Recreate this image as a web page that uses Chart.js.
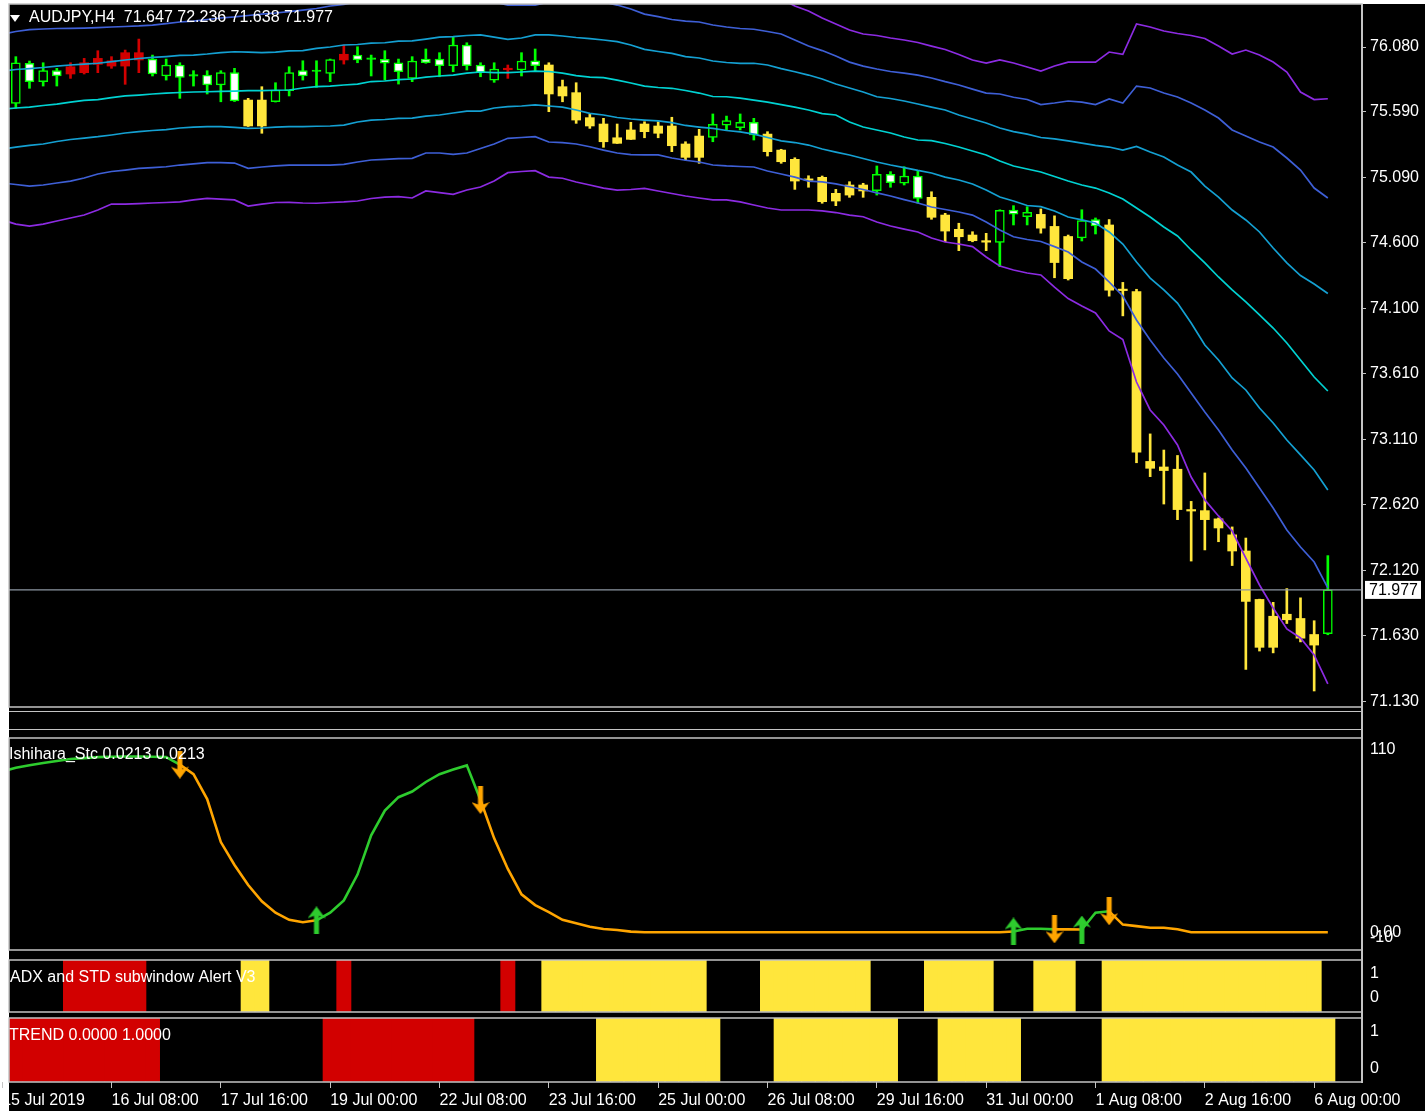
<!DOCTYPE html>
<html>
<head>
<meta charset="utf-8">
<title>AUDJPY,H4</title>
<script src="https://cdn.jsdelivr.net/npm/chart.js@4.4.1/dist/chart.umd.min.js"></script>
<style>
  html, body { margin: 0; padding: 0; background: #fff; }
  #wrap { position: relative; width: 1425px; height: 1111px; overflow: hidden; background: #fff; }
  #black { position: absolute; left: 9px; top: 4px; width: 1416px; height: 1107px; background: #000; }
  #strip { position: absolute; left: 9px; top: 711px; width: 1353px; height: 19px; box-sizing: border-box;
           border-top: 1.5px solid #c4c4c4; border-bottom: 1.5px solid #c4c4c4; }
  #vline { position: absolute; left: 1361px; top: 4px; width: 1.5px; height: 1079px; background: #c4c4c4; }
  canvas { position: absolute; left: 0; }
</style>
</head>
<body>
<div id="wrap">
  <div id="black"></div>
  <div id="strip"></div>
  <div id="vline"></div>
  <canvas id="main" width="1425" height="710" style="top:0px"></canvas>
  <canvas id="stc" width="1425" height="226" style="top:731px"></canvas>
  <canvas id="adx" width="1425" height="56" style="top:958px"></canvas>
  <canvas id="trend" width="1425" height="95" style="top:1016px"></canvas>
</div>
<script>
// AUDJPY H4, bar 0 = 15 Jul 2019 00:00 (just off the left edge), bar 97 = 6 Aug 04:00
const symbol = 'AUDJPY,H4';

const open = [null,
  75.654, 75.957, 75.818, 75.901, 75.876, 75.886, 75.949, 75.936, 75.936, 75.982,
  75.989, 75.861, 75.944, 75.866, 75.868, 75.793, 75.886, 75.679, 75.679, 75.666,
  75.750, 75.901, 75.901, 75.881, 75.982, 76.019, 75.992, 75.987, 75.961, 75.843,
  75.989, 75.989, 75.939, 76.095, 75.944, 75.830, 75.908, 75.906, 75.976, 75.944,
  75.780, 75.735, 75.546, 75.498, 75.394, 75.453, 75.498, 75.483, 75.483, 75.347,
  75.407, 75.397, 75.490, 75.470, 75.511, 75.422, 75.301, 75.231, 75.078, 75.095,
  74.974, 75.037, 75.037, 74.994, 75.118, 75.050, 75.105, 74.944, 74.810, 74.702,
  74.659, 74.611, 74.604, 74.848, 74.797, 74.815, 74.724, 74.648, 74.638, 74.776,
  74.735, 74.245, 74.232, 72.948, 72.906, 72.889, 72.579, 72.576, 72.514, 72.393,
  72.271, 71.905, 71.778, 71.793, 71.761, 71.640, 71.647];
const high = [null,
  76.007, 75.974, 75.961, 75.919, 75.961, 75.994, 76.052, 76.007, 76.057, 76.140,
  76.019, 75.989, 75.961, 75.901, 75.901, 75.901, 75.919, 75.692, 75.780, 75.810,
  75.931, 75.976, 75.976, 75.989, 76.095, 76.082, 76.019, 76.052, 75.989, 76.007,
  76.065, 76.037, 76.158, 76.112, 75.961, 75.961, 75.944, 76.037, 76.065, 75.961,
  75.830, 75.810, 75.571, 75.541, 75.498, 75.511, 75.515, 75.515, 75.549, 75.364,
  75.458, 75.574, 75.558, 75.574, 75.541, 75.440, 75.307, 75.243, 75.107, 75.105,
  75.004, 75.062, 75.050, 75.181, 75.138, 75.175, 75.143, 74.986, 74.823, 74.748,
  74.684, 74.672, 74.850, 74.881, 74.873, 74.856, 74.804, 74.659, 74.850, 74.788,
  74.776, 74.301, 74.249, 73.156, 73.034, 72.993, 72.646, 72.861, 72.521, 72.453,
  72.369, 71.907, 71.883, 71.987, 71.917, 71.744, 72.236];
const low = [null,
  75.617, 75.768, 75.785, 75.785, 75.843, 75.876, 75.886, 75.919, 75.798, 75.886,
  75.861, 75.830, 75.692, 75.785, 75.725, 75.666, 75.668, 75.479, 75.428, 75.664,
  75.710, 75.830, 75.775, 75.818, 75.951, 75.961, 75.861, 75.830, 75.800, 75.818,
  75.957, 75.855, 75.893, 75.906, 75.855, 75.813, 75.843, 75.861, 75.901, 75.591,
  75.666, 75.503, 75.465, 75.322, 75.351, 75.381, 75.394, 75.394, 75.289, 75.226,
  75.201, 75.364, 75.453, 75.453, 75.377, 75.256, 75.201, 75.004, 75.020, 74.899,
  74.881, 74.944, 74.944, 74.961, 75.020, 75.037, 74.899, 74.778, 74.608, 74.541,
  74.608, 74.541, 74.420, 74.735, 74.735, 74.673, 74.336, 74.319, 74.614, 74.667,
  74.197, 74.048, 72.938, 72.833, 72.626, 72.508, 72.195, 72.279, 72.341, 72.161,
  71.376, 71.515, 71.501, 71.723, 71.584, 71.213, 71.638];
const close = [null,
  75.961, 75.818, 75.901, 75.861, 75.931, 75.961, 75.994, 75.976, 76.037, 76.037,
  75.876, 75.944, 75.851, 75.860, 75.793, 75.886, 75.672, 75.483, 75.483, 75.755,
  75.886, 75.861, 75.895, 75.985, 76.025, 75.982, 75.986, 75.957, 75.893, 75.974,
  75.961, 75.939, 76.095, 75.939, 75.886, 75.914, 75.914, 75.974, 75.939, 75.725,
  75.710, 75.528, 75.483, 75.364, 75.352, 75.382, 75.440, 75.428, 75.334, 75.246,
  75.246, 75.496, 75.523, 75.511, 75.415, 75.289, 75.213, 75.067, 75.072, 74.911,
  74.916, 74.961, 74.992, 75.118, 75.054, 75.105, 74.936, 74.793, 74.689, 74.646,
  74.616, 74.605, 74.846, 74.816, 74.831, 74.711, 74.451, 74.329, 74.769, 74.728,
  74.242, 74.239, 73.018, 72.896, 72.879, 72.584, 72.573, 72.508, 72.445, 72.271,
  71.890, 71.543, 71.543, 71.751, 71.612, 71.560, 71.977];

// channel lines, outer to inner
const p3Up = [null, null, null, null, null, null, null, null, null, null,
  null, null, null, null, null, null, null, null, null, null,
  null, null, null, null, null, null, null, null, null, null,
  null, null, null, null, null, null, null, null, null, null,
  null, null, null, null, null, null, null, null, null, null,
  null, null, null, null, null, null, null, 76.443, 76.390, 76.352,
  76.299, 76.254, 76.208, 76.178, 76.167, 76.148, 76.133, 76.114, 76.087, 76.061,
  76.023, 75.982, 75.959, 75.982, 75.959, 75.929, 75.898, 75.936, 75.966, 75.966,
  75.966, 76.042, 76.025, 76.254, 76.231, 76.201, 76.182, 76.167, 76.144, 76.087,
  76.027, 76.057, 76.019, 75.966, 75.891, 75.740, 75.683, 75.689];
const b2Up = [
  76.178, 76.197, 76.212, 76.216, 76.220, 76.221, 76.223, 76.227, 76.231, 76.235,
  76.239, 76.246, 76.257, 76.269, 76.276, 76.288, 76.299, 76.307, 76.318, 76.329,
  76.337, 76.348, 76.359, 76.371, 76.390, 76.401, 76.427, 76.443, 76.458, 76.465,
  76.465, 76.465, 76.465, 76.458, 76.450, 76.435, 76.420, 76.397, 76.397, 76.397,
  76.420, 76.435, 76.443, 76.435, 76.420, 76.397, 76.367, 76.329, 76.309, 76.288,
  76.276, 76.269, 76.246, 76.231, 76.220, 76.214, 76.197, 76.178, 76.133, 76.087,
  76.053, 76.012, 75.966, 75.936, 75.914, 75.895, 75.883, 75.868, 75.846, 75.818,
  75.793, 75.762, 75.732, 75.725, 75.700, 75.683, 75.645, 75.657, 75.672, 75.664,
  75.645, 75.687, 75.657, 75.785, 75.770, 75.732, 75.702, 75.657, 75.604, 75.543,
  75.453, 75.407, 75.362, 75.324, 75.241, 75.150, 75.014, 74.939];
const c1Up = [
  75.898, 75.910, 75.917, 75.925, 75.936, 75.944, 75.951, 75.957, 75.970, 75.982,
  75.993, 76.002, 76.008, 76.016, 76.019, 76.027, 76.038, 76.044, 76.041, 76.037,
  76.042, 76.050, 76.052, 76.069, 76.080, 76.095, 76.099, 76.110, 76.112, 76.125,
  76.127, 76.140, 76.155, 76.159, 76.167, 76.171, 76.155, 76.137, 76.148, 76.171,
  76.171, 76.163, 76.152, 76.144, 76.133, 76.120, 76.095, 76.062, 76.046, 76.032,
  76.007, 75.997, 75.974, 75.963, 75.957, 75.957, 75.944, 75.917, 75.893, 75.868,
  75.838, 75.800, 75.770, 75.740, 75.704, 75.691, 75.672, 75.649, 75.626, 75.604,
  75.566, 75.536, 75.506, 75.468, 75.441, 75.422, 75.396, 75.385, 75.370, 75.354,
  75.336, 75.324, 75.301, 75.328, 75.286, 75.249, 75.188, 75.135, 75.029, 74.946,
  74.848, 74.773, 74.682, 74.561, 74.448, 74.353, 74.289, 74.217];
const mid = [
  75.611, 75.619, 75.626, 75.638, 75.649, 75.664, 75.676, 75.683, 75.698, 75.710,
  75.717, 75.725, 75.732, 75.736, 75.740, 75.742, 75.745, 75.747, 75.750, 75.751,
  75.753, 75.755, 75.770, 75.780, 75.785, 75.793, 75.800, 75.819, 75.823, 75.834,
  75.838, 75.853, 75.861, 75.868, 75.883, 75.891, 75.887, 75.886, 75.891, 75.898,
  75.895, 75.883, 75.864, 75.853, 75.849, 75.830, 75.808, 75.785, 75.774, 75.768,
  75.751, 75.732, 75.706, 75.704, 75.694, 75.679, 75.664, 75.645, 75.626, 75.604,
  75.577, 75.566, 75.513, 75.475, 75.453, 75.430, 75.400, 75.377, 75.373, 75.351,
  75.324, 75.294, 75.264, 75.218, 75.181, 75.158, 75.135, 75.101, 75.067, 75.037,
  75.014, 74.977, 74.931, 74.863, 74.795, 74.720, 74.652, 74.546, 74.448, 74.342,
  74.244, 74.153, 74.055, 73.956, 73.843, 73.715, 73.586, 73.480];
const c1Low = [
  75.309, 75.324, 75.336, 75.347, 75.366, 75.381, 75.392, 75.402, 75.415, 75.430,
  75.441, 75.449, 75.456, 75.468, 75.475, 75.478, 75.478, 75.472, 75.465, 75.468,
  75.475, 75.478, 75.479, 75.481, 75.483, 75.490, 75.513, 75.528, 75.532, 75.540,
  75.543, 75.558, 75.566, 75.581, 75.596, 75.596, 75.619, 75.629, 75.634, 75.642,
  75.634, 75.626, 75.604, 75.579, 75.566, 75.547, 75.536, 75.528, 75.521, 75.508,
  75.487, 75.475, 75.465, 75.449, 75.438, 75.422, 75.396, 75.370, 75.358, 75.339,
  75.309, 75.286, 75.264, 75.237, 75.211, 75.188, 75.169, 75.147, 75.128, 75.097,
  75.075, 75.045, 74.999, 74.946, 74.916, 74.882, 74.873, 74.841, 74.795, 74.773,
  74.750, 74.682, 74.591, 74.455, 74.334, 74.244, 74.145, 73.994, 73.828, 73.715,
  73.579, 73.488, 73.352, 73.238, 73.110, 72.997, 72.883, 72.732];
const b2Low = [
  75.052, 75.041, 75.029, 75.037, 75.052, 75.067, 75.090, 75.120, 75.139, 75.150,
  75.162, 75.169, 75.175, 75.188, 75.196, 75.206, 75.206, 75.203, 75.163, 75.173,
  75.181, 75.188, 75.188, 75.188, 75.188, 75.193, 75.211, 75.226, 75.231, 75.237,
  75.239, 75.279, 75.279, 75.269, 75.279, 75.313, 75.347, 75.390, 75.396, 75.402,
  75.362, 75.357, 75.347, 75.326, 75.301, 75.279, 75.267, 75.264, 75.264, 75.241,
  75.224, 75.211, 75.188, 75.181, 75.177, 75.173, 75.143, 75.120, 75.097, 75.067,
  75.060, 75.045, 75.024, 75.003, 74.977, 74.954, 74.927, 74.901, 74.871, 74.852,
  74.833, 74.810, 74.757, 74.697, 74.646, 74.625, 74.610, 74.571, 74.531, 74.455,
  74.402, 74.304, 74.198, 74.017, 73.866, 73.730, 73.609, 73.465, 73.322, 73.186,
  73.034, 72.898, 72.747, 72.596, 72.430, 72.301, 72.188, 71.992];
const p3Low = [
  74.773, 74.742, 74.727, 74.742, 74.765, 74.788, 74.810, 74.848, 74.893, 74.893,
  74.897, 74.901, 74.905, 74.909, 74.924, 74.936, 74.931, 74.924, 74.878, 74.893,
  74.905, 74.906, 74.901, 74.899, 74.905, 74.909, 74.916, 74.935, 74.946, 74.949,
  74.939, 74.992, 74.979, 74.967, 74.999, 75.022, 75.067, 75.130, 75.139, 75.145,
  75.097, 75.088, 75.060, 75.037, 75.014, 74.999, 75.003, 75.011, 74.992, 74.973,
  74.954, 74.939, 74.924, 74.924, 74.909, 74.886, 74.863, 74.848, 74.848, 74.848,
  74.841, 74.829, 74.810, 74.797, 74.757, 74.727, 74.704, 74.682, 74.636, 74.606,
  74.591, 74.571, 74.493, 74.425, 74.395, 74.372, 74.357, 74.266, 74.179, 74.123,
  74.070, 73.934, 73.869, 73.548, 73.337, 73.223, 73.072, 72.830, 72.657, 72.536,
  72.422, 72.218, 72.014, 71.840, 71.682, 71.614, 71.485, 71.266];

// Ishihara_Stc
const stc = [
  91.1, 93.2, 94.6, 95.9, 97.0, 98.1, 98.6, 99.2, 99.35, 99.5,
  99.5, 99.35, 99.2, 94.9, 89.5, 75.4, 51.1, 38.1, 26.8, 17.6,
  11.1, 7.1, 5.7, 6.8, 11.1, 18.1, 32.7, 54.9, 68.9, 76.5,
  79.7, 85.1, 89.5, 92.2, 94.5, 74.9, 53.2, 35.9, 21.5, 15.4,
  11.4, 7.1, 5.1, 3.2, 1.9, 1.35, 0.4, 0.0213, 0.0213, 0.0213,
  0.0213, 0.0213, 0.0213, 0.0213, 0.0213, 0.0213, 0.0213, 0.0213, 0.0213, 0.0213,
  0.0213, 0.0213, 0.0213, 0.0213, 0.0213, 0.0213, 0.0213, 0.0213, 0.0213, 0.0213,
  0.0213, 0.0213, 0.0213, 0.0213, 0.5, 2.05, 2.05, 1.7, 1.7, 1.6,
  11.1, 11.9, 4.4, 3.5, 2.6, 2.6, 1.7, 0.0213, 0.0213, 0.0213,
  0.0213, 0.0213, 0.0213, 0.0213, 0.0213, 0.0213, 0.0213, 0.0213];
const stcUpIdx = [23, 74, 79];
const stcDownIdx = [13, 35, 77, 81];

// ADX and STD subwindow Alert V3: 1 = yellow, -1 = red, 0 = none
const adx = [0,
  0, 0, 0, 0, -1, -1, -1, -1, -1, -1,
  0, 0, 0, 0, 0, 0, 0, 1, 1, 0,
  0, 0, 0, 0, -1, 0, 0, 0, 0, 0,
  0, 0, 0, 0, 0, 0, -1, 0, 0, 1,
  1, 1, 1, 1, 1, 1, 1, 1, 1, 1,
  1, 0, 0, 0, 0, 1, 1, 1, 1, 1,
  1, 1, 1, 0, 0, 0, 0, 1, 1, 1,
  1, 1, 0, 0, 0, 1, 1, 1, 0, 0,
  1, 1, 1, 1, 1, 1, 1, 1, 1, 1,
  1, 1, 1, 1, 1, 1, 0];
// TREND: 1 = yellow, -1 = red, 0 = none
const trend = [0,
  -1, -1, -1, -1, -1, -1, -1, -1, -1, -1,
  -1, 0, 0, 0, 0, 0, 0, 0, 0, 0,
  0, 0, 0, -1, -1, -1, -1, -1, -1, -1,
  -1, -1, -1, -1, 0, 0, 0, 0, 0, 0,
  0, 0, 0, 1, 1, 1, 1, 1, 1, 1,
  1, 1, 0, 0, 0, 0, 1, 1, 1, 1,
  1, 1, 1, 1, 1, 0, 0, 0, 1, 1,
  1, 1, 1, 1, 0, 0, 0, 0, 0, 0,
  1, 1, 1, 1, 1, 1, 1, 1, 1, 1,
  1, 1, 1, 1, 1, 1, 1];

const priceTicks = [76.08, 75.59, 75.09, 74.60, 74.10, 73.61, 73.11, 72.62, 72.12, 71.63, 71.13];
const stcTicks = [110, 0, -10];
const stcTickText = ['110', '0.00', '-10'];
const binTicks = [1, 0];
const binTickText = ['1', '0'];
const xTickIdx = [0, 8, 16, 24, 32, 40, 48, 56, 64, 72, 80, 88, 96];
const xTickText = ['15 Jul 2019', '16 Jul 08:00', '17 Jul 16:00', '19 Jul 00:00', '22 Jul 08:00',
  '23 Jul 16:00', '25 Jul 00:00', '26 Jul 08:00', '29 Jul 16:00', '31 Jul 00:00',
  '1 Aug 08:00', '2 Aug 16:00', '6 Aug 00:00'];

const GREEN = '#00FF00', YELLOW = '#FFE63C', RED = '#D20000';
const STC_UP = '#2ECC2E', STC_DN = '#FFA500';
const FRAME = '#C4C4C4';
const X_MIN = 0.5, X_MAX = 99.5;

Chart.defaults.font.family = '"Liberation Sans", Arial, sans-serif';
Chart.defaults.font.size = 16;
Chart.defaults.color = '#FFFFFF';

const last = close.length - 1;

// candle colour comes from the ADX state
function candleLine(i) { return adx[i] === 1 ? YELLOW : adx[i] === -1 ? RED : GREEN; }
function candleFill(i) {
  if (adx[i] !== 0) return candleLine(i);
  if (Math.abs(close[i] - open[i]) < 0.01) return GREEN;
  return close[i] > open[i] ? '#000000' : '#FFFFFF';
}

const panelPlugin = {
  id: 'panel',
  afterDatasetsDraw(chart, args, o) {
    const {ctx, chartArea: a} = chart;
    ctx.save();
    if (o.price != null) {
      const y = chart.scales.y.getPixelForValue(o.price);
      ctx.strokeStyle = '#8C96A2';
      ctx.lineWidth = 1.3;
      ctx.beginPath(); ctx.moveTo(a.left, y); ctx.lineTo(a.right, y); ctx.stroke();
    }
    ctx.fillStyle = '#FFFFFF';
    if (o.marker) {
      const ty = a.top + o.dy;
      ctx.beginPath();
      ctx.moveTo(a.left + 1, ty - 3); ctx.lineTo(a.left + 11, ty - 3); ctx.lineTo(a.left + 6, ty + 4);
      ctx.closePath(); ctx.fill();
    }
    ctx.font = '16px "Liberation Sans", Arial, sans-serif';
    ctx.textBaseline = 'middle';
    ctx.fillText(o.title, a.left + o.dx, a.top + o.dy);
    ctx.restore();
  },
  afterDraw(chart, args, o) {
    const {ctx, chartArea: a} = chart;
    ctx.save();
    ctx.strokeStyle = FRAME;
    ctx.lineWidth = 1.5;
    ctx.strokeRect(a.left, a.top, a.right - a.left, a.bottom - a.top);
    if (o.price != null) {
      const y = chart.scales.y.getPixelForValue(o.price);
      ctx.fillStyle = '#FFFFFF';
      ctx.fillRect(a.right + 3, y - 9, 56, 18);
      ctx.fillStyle = '#000000';
      ctx.font = '16px "Liberation Sans", Arial, sans-serif';
      ctx.textBaseline = 'middle';
      ctx.fillText(o.price.toFixed(3), a.right + 7, y + 1);
    }
    ctx.restore();
  }
};

function xAxis(show) {
  const ax = {
    type: 'linear', min: X_MIN, max: X_MAX, offset: false, display: show,
    grid: { offset: false, drawOnChartArea: false, drawTicks: true, tickLength: 6, color: FRAME },
    border: { display: false }
  };
  if (show) {
    ax.afterFit = s => { s.height = 29; s.paddingLeft = 0; s.paddingRight = 0; };
    ax.afterBuildTicks = s => { s.ticks = xTickIdx.map(v => ({ value: v })); };
    ax.ticks = { autoSkip: false, maxRotation: 0, align: 'start', padding: 3, color: '#FFFFFF',
                 callback: (v, i) => xTickText[i] };
  }
  return ax;
}

// labels at the top and bottom of a subwindow sit inside it, like MT4 draws them
function insetLabels(texts) {
  return (v, i, ticks) => {
    if (i === 0) return ['', texts[i]];
    if (i === ticks.length - 1) return [texts[i], ''];
    return texts[i];
  };
}

function yAxis(min, max, ticks, cb, lineHeight, tickColor) {
  return {
    type: 'linear', position: 'right', min, max, beginAtZero: false,
    afterFit: s => { s.width = 63; s.paddingTop = 0; s.paddingBottom = 0; },
    afterBuildTicks: s => { s.ticks = ticks.map(v => ({ value: v })); },
    grid: { drawOnChartArea: false, drawTicks: true, tickLength: 4, color: FRAME, tickColor },
    border: { display: false },
    ticks: { autoSkip: false, padding: 4, color: '#FFFFFF', callback: cb,
             font: { size: 16, lineHeight } }
  };
}

function base(padTop, padBottom, panel, scales) {
  return {
    responsive: false, animation: false, events: [],
    layout: { padding: { left: 9, right: 0, top: padTop, bottom: padBottom } },
    plugins: { legend: { display: false }, tooltip: { enabled: false }, panel },
    scales
  };
}

// ---- main window ----
const bars = open.map((o, i) => i).filter(i => open[i] != null);
const lineSet = (arr, color) => ({
  type: 'line', order: 1,
  data: arr.map((v, i) => ({ x: i, y: v })).filter(p => p.y != null),
  borderColor: color, borderWidth: 1.7, pointRadius: 0, tension: 0, spanGaps: false
});

new Chart(document.getElementById('main'), {
  type: 'bar',
  plugins: [panelPlugin],
  data: {
    datasets: [
      lineSet(p3Up, '#8C2BE2'),
      lineSet(b2Up, '#3E5FD6'),
      lineSet(c1Up, '#14A0D2'),
      lineSet(mid, '#00D2D2'),
      lineSet(c1Low, '#14A0D2'),
      lineSet(b2Low, '#3E5FD6'),
      lineSet(p3Low, '#8C2BE2'),
      {
        type: 'bar', order: 2, grouped: false,
        data: bars.map(i => ({ x: i, y: [Math.min(open[i], close[i]), Math.max(open[i], close[i])] })),
        backgroundColor: c => c.raw ? candleFill(c.raw.x) : GREEN,
        borderColor: c => c.raw ? candleLine(c.raw.x) : GREEN,
        borderWidth: c => (c.raw && adx[c.raw.x] === 0) ? 1.5 : 0,
        borderSkipped: false, barThickness: 9, minBarLength: 1.5
      },
      {
        type: 'bar', order: 3, grouped: false,
        data: bars.map(i => ({ x: i, y: [low[i], high[i]] })),
        backgroundColor: c => c.raw ? candleLine(c.raw.x) : GREEN,
        borderWidth: 0, barThickness: 2
      }
    ]
  },
  options: base(4, 3,
    { title: `${symbol}  ${open[last].toFixed(3)} ${high[last].toFixed(3)} ${low[last].toFixed(3)} ${close[last].toFixed(3)}`,
      dx: 20, dy: 14, marker: true, price: close[last] },
    { x: xAxis(false),
      y: yAxis(71.092, 76.405, priceTicks, v => Number(v).toFixed(3), '19px', FRAME) })
});

// ---- Ishihara_Stc ----
const stcState = [];
let st = 1;
stc.forEach((v, i) => {
  if (stcDownIdx.includes(i)) st = -1;
  if (stcUpIdx.includes(i)) st = 1;
  stcState.push(st);
});

function makeArrow(color, up) {
  const c = document.createElement('canvas');
  c.width = 18; c.height = 28;
  const g = c.getContext('2d');
  g.fillStyle = color;
  g.beginPath();
  [[9, 0], [18, 12], [11.5, 9.5], [11.5, 28], [6.5, 28], [6.5, 9.5], [0, 12]].forEach(([px, py], k) => {
    const yy = up ? py : 28 - py;
    if (k) g.lineTo(px, yy); else g.moveTo(px, yy);
  });
  g.closePath();
  g.fill();
  return c;
}

new Chart(document.getElementById('stc'), {
  type: 'line',
  plugins: [panelPlugin],
  data: {
    datasets: [
      { data: stcUpIdx.map(i => ({ x: i, y: stc[i] })), showLine: false,
        pointStyle: makeArrow(STC_UP, true), pointRadius: 6, order: 0 },
      { data: stcDownIdx.map(i => ({ x: i, y: stc[i] })), showLine: false,
        pointStyle: makeArrow(STC_DN, false), pointRadius: 6, order: 0 },
      { data: stc.map((v, i) => ({ x: i, y: v })), order: 1,
        borderWidth: 2.6, pointRadius: 0, tension: 0, borderColor: STC_UP,
        segment: { borderColor: c => stcState[c.p0DataIndex] === 1 ? STC_UP : STC_DN } }
    ]
  },
  options: base(2, 2,
    { title: `Ishihara_Stc ${stc[last].toFixed(4)} ${stc[last].toFixed(4)}`, dx: 0, dy: 17 },
    { x: xAxis(false),
      y: yAxis(-10, 110, stcTicks, insetLabels(stcTickText), '24px', 'rgba(0,0,0,0)') })
});

// ---- ADX and STD subwindow Alert V3 / TREND ----
function blockSets(states) {
  return [
    { data: states.map((s, i) => ({ x: i, y: s === 1 ? 1 : null })).filter(p => p.y != null),
      backgroundColor: YELLOW, borderWidth: 0, barThickness: 14.3, grouped: false },
    { data: states.map((s, i) => ({ x: i, y: s === -1 ? 1 : null })).filter(p => p.y != null),
      backgroundColor: RED, borderWidth: 0, barThickness: 14.3, grouped: false }
  ];
}

new Chart(document.getElementById('adx'), {
  type: 'bar',
  plugins: [panelPlugin],
  data: { datasets: blockSets(adx) },
  options: base(2, 2,
    { title: 'ADX and STD subwindow Alert V3', dx: 1, dy: 18 },
    { x: xAxis(false),
      y: yAxis(0, 1, binTicks, insetLabels(binTickText), '28px', 'rgba(0,0,0,0)') })
});

const trendRed = trend[last] === -1 ? 1 : 0;
const trendYellow = trend[last] === 1 ? 1 : 0;
new Chart(document.getElementById('trend'), {
  type: 'bar',
  plugins: [panelPlugin],
  data: { datasets: blockSets(trend) },
  options: base(2, 0,
    { title: `TREND ${trendRed.toFixed(4)} ${trendYellow.toFixed(4)}`, dx: 0, dy: 18 },
    { x: xAxis(true),
      y: yAxis(0, 1, binTicks, insetLabels(binTickText), '27px', 'rgba(0,0,0,0)') })
});
</script>
</body>
</html>
